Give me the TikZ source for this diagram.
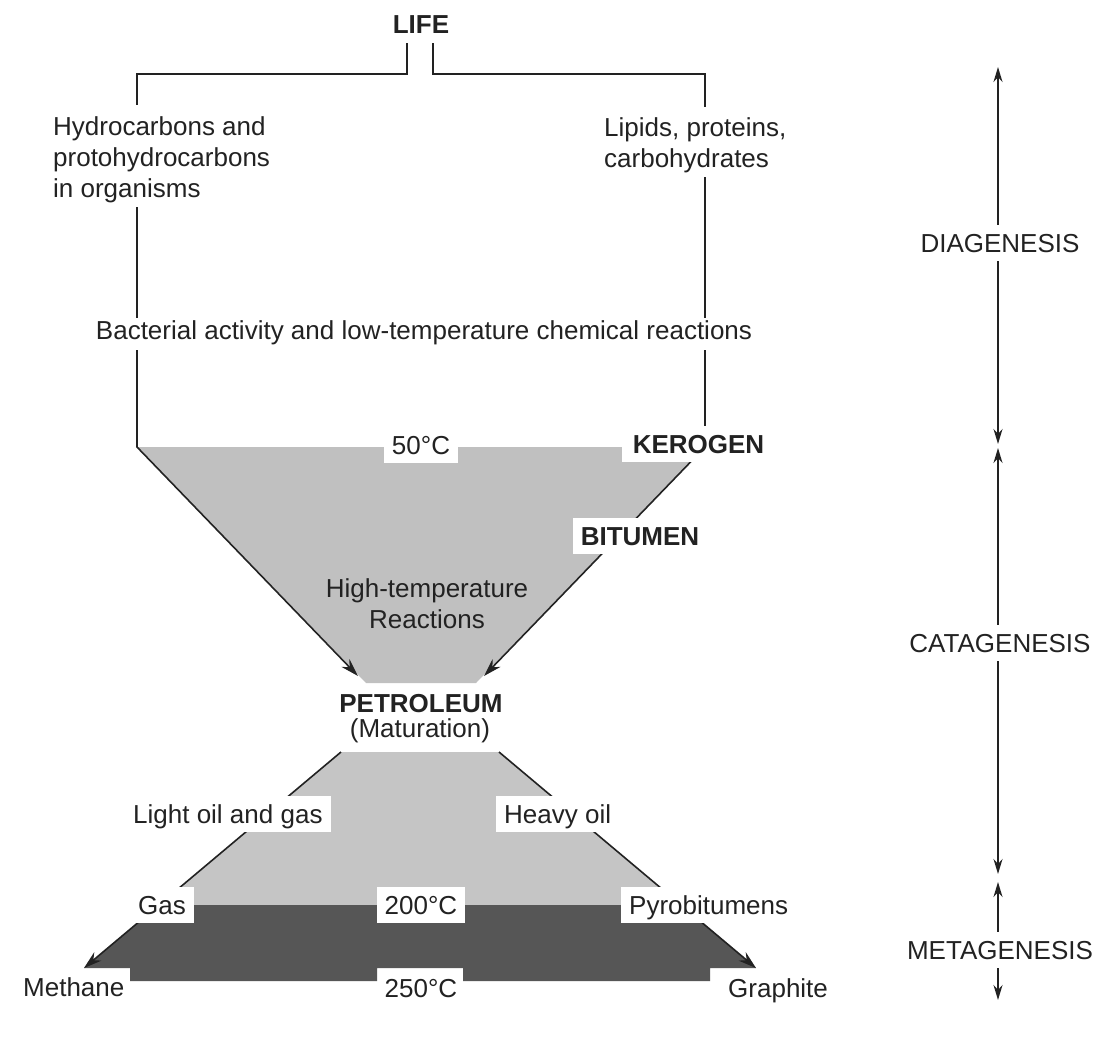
\documentclass[tikz,border=0pt]{standalone}
\usepackage{fontspec}
\setmainfont{Liberation Sans}
\usetikzlibrary{arrows.meta,backgrounds}
\definecolor{ink}{HTML}{222222}
\definecolor{funnelg}{HTML}{C0C0C0}
\definecolor{lightg}{HTML}{C5C5C5}
\definecolor{darkg}{HTML}{565656}
\begin{document}
\begin{tikzpicture}[x=1pt,y=-1pt,
  font=\fontsize{26}{31}\selectfont,
  txt/.style={text=ink, inner sep=0pt},
  lbl/.style={text=ink, fill=white, text height=23pt, text depth=5pt, inner xsep=8pt, inner ysep=4pt},
  bfnt/.style={font=\fontsize{26}{31}\selectfont\bfseries},
  ln/.style={draw=ink, line width=1.6pt},
  tip/.style={arrows={-Stealth[length=18pt,width=11pt]}},
  dtip/.style={arrows={Stealth[length=15pt,width=9pt]-Stealth[length=15pt,width=9pt]}}
]
\useasboundingbox (0,0) rectangle (1106,1045);

% ---------- labels ----------
\node[txt, bfnt, anchor=base] (life) at (421,33) {LIFE};
\node[txt, anchor=north west, align=left] (hydro) at (53,116.4) {Hydrocarbons and\\protohydrocarbons\\in organisms};
\node[txt, anchor=north west, align=left] (lipids) at (604,117.4) {Lipids, proteins,\\carbohydrates};
\node[txt, anchor=base] (bact) at (424,339) {Bacterial activity and low-temperature chemical reactions};
\node[lbl, anchor=base] (t50) at (421,454) {50°C};
\node[lbl, bfnt, inner xsep=11pt, anchor=base] (kero) at (698.5,453) {KEROGEN};
\node[lbl, bfnt, anchor=base] (bitu) at (640,545) {BITUMEN};
\node[txt, anchor=north, align=center] (htr) at (427,578.4) {High-temperature\\Reactions};
\node[txt, bfnt, anchor=base] (petro) at (421,712) {PETROLEUM};
\node[txt, anchor=base] (matur) at (420,737) {(Maturation)};
\node[lbl, anchor=base west] (light) at (125,823) {Light oil and gas};
\node[lbl, anchor=base west] (heavy) at (496,823) {Heavy oil};
\node[lbl, anchor=base west] (gas) at (130,914) {Gas};
\node[lbl, anchor=base] (t200) at (421,914) {200°C};
\node[lbl, anchor=base west] (pyro) at (621,914) {Pyrobitumens};
\node[txt, anchor=base west] (meth) at (23,996) {Methane};
\node[txt, anchor=base] (t250) at (421,997) {250°C};
\node[txt, anchor=base west] (graph) at (728,997) {Graphite};
\node[lbl, anchor=base] (dia) at (1000,252) {DIAGENESIS};
\node[lbl, anchor=base] (cata) at (1000,652) {CATAGENESIS};
\node[lbl, anchor=base] (meta) at (1000,959) {METAGENESIS};

% ---------- coordinates ----------
\coordinate (stemL) at (407,43);
\coordinate (stemR) at (433,43);
\coordinate (hTop) at (137,105);
\coordinate (hBot) at (137,207);
\coordinate (lTop) at (705,107);
\coordinate (lBot) at (705,177);
\coordinate (bL1) at (137,318);
\coordinate (bR1) at (705,318);
\coordinate (bL2) at (137,350);
\coordinate (bR2) at (705,350);
\coordinate (fTL) at (137,447);
\coordinate (fTR) at (705,447);
\coordinate (pL) at (358,676);
\coordinate (pR) at (484,676);
\coordinate (mTL) at (341,752);
\coordinate (mTR) at (499,752);
\coordinate (methTip) at (84,968);
\coordinate (graphTip) at (756,968);

\begin{scope}[on background layer]
  \fill[white] (0,0) rectangle (1106,1045);
  % fills
  \fill[funnelg] (fTL) -- (fTR) -- (476,683) -- (366,683) -- cycle;
  \fill[lightg] (mTL) -- (mTR) -- (681,905) -- (159,905) -- cycle;
  \fill[darkg] (159,905) -- (681,905) -- (graphTip) -- (710,968) -- (710,981)
     -- (463,981) -- (463,968) -- (377,968) -- (377,981) -- (130,981)
     -- (130,968) -- (methTip) -- cycle;
  % connectors
  \draw[ln] (stemL) |- (137,74) -- (hTop);
  \draw[ln] (stemR) |- (705,74) -- (lTop);
  \draw[ln] (hBot) -- (bL1);
  \draw[ln] (lBot) -- (bR1);
  \draw[ln, tip] (bL2) -- (fTL) -- (pL);
  \draw[ln, tip] (bR2) -- (fTR) -- (pR);
  \draw[ln, tip] (mTL) -- (methTip);
  \draw[ln, tip] (mTR) -- (graphTip);
  \draw[ln, dtip] (998,67) -- (998,444);
  \draw[ln, dtip] (998,448) -- (998,874);
  \draw[ln, dtip] (998,882) -- (998,1000);
\end{scope}
\end{tikzpicture}
\end{document}
